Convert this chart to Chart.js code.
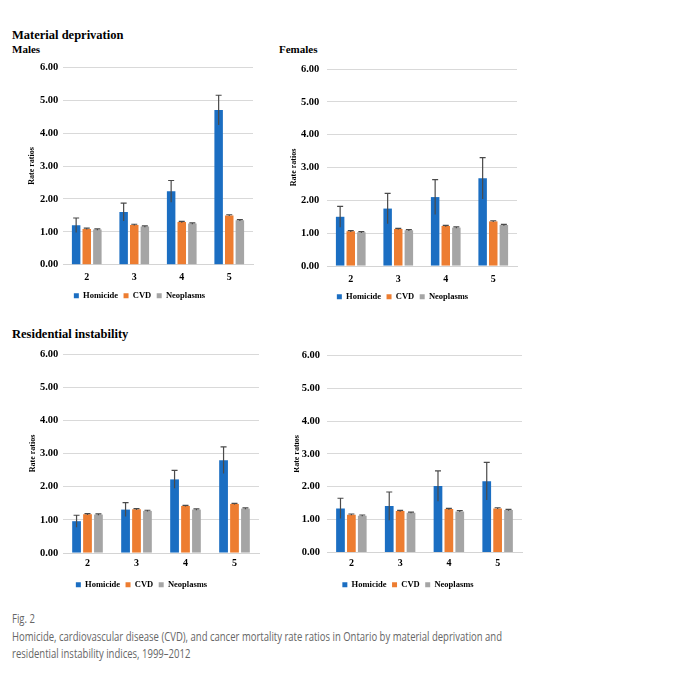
<!DOCTYPE html>
<html><head><meta charset="utf-8">
<script src="https://cdn.jsdelivr.net/npm/chart.js@4.4.0/dist/chart.umd.min.js"></script>
<style>
html,body{margin:0;padding:0;background:#fff;width:682px;height:679px;overflow:hidden;}
.t{position:absolute;font-family:"Liberation Serif","Times New Roman",serif;font-weight:bold;color:#000;white-space:nowrap;line-height:1;}
canvas{position:absolute;}
#cap{position:absolute;left:12px;top:610px;font-family:"Open Sans",sans-serif;font-size:12.5px;line-height:17.5px;color:#666;white-space:nowrap;transform-origin:0 0;}
</style></head><body>
<div class="t" style="left:12px;top:29px;font-size:12.5px">Material deprivation</div>
<div class="t" style="left:12px;top:44px;font-size:11px">Males</div>
<div class="t" style="left:279px;top:44px;font-size:11px">Females</div>
<div class="t" style="left:12px;top:328px;font-size:12.5px">Residential instability</div>
<canvas id="c1"></canvas>
<canvas id="c2"></canvas>
<canvas id="c3"></canvas>
<canvas id="c4"></canvas>
<div id="cap"><div>Fig. 2</div><div id="capl">Homicide, cardiovascular disease (CVD), and cancer mortality rate ratios in Ontario by material deprivation and</div><div>residential instability indices, 1999–2012</div></div>
<script>
// ---- data ----
const categories = ['2', '3', '4', '5'];
const seriesNames = ['Homicide', 'CVD', 'Neoplasms'];
const yTickValues = [0, 1, 2, 3, 4, 5, 6];
const yTickLabels = ['0.00', '1.00', '2.00', '3.00', '4.00', '5.00', '6.00'];

// Material deprivation, males
const mdMalesHomicide = [1.20, 1.60, 2.23, 4.70];
const mdMalesCVD = [1.09, 1.21, 1.30, 1.50];
const mdMalesNeoplasms = [1.07, 1.16, 1.25, 1.35];
const mdMalesHomicideErr = [0.22, 0.27, 0.33, 0.45];
const mdMalesCVDErr = [0.02, 0.02, 0.02, 0.02];
const mdMalesNeoplasmsErr = [0.02, 0.02, 0.02, 0.02];

// Material deprivation, females
const mdFemalesHomicide = [1.50, 1.75, 2.10, 2.67];
const mdFemalesCVD = [1.06, 1.13, 1.22, 1.36];
const mdFemalesNeoplasms = [1.03, 1.09, 1.17, 1.25];
const mdFemalesHomicideErr = [0.32, 0.46, 0.53, 0.63];
const mdFemalesCVDErr = [0.02, 0.02, 0.02, 0.02];
const mdFemalesNeoplasmsErr = [0.02, 0.02, 0.02, 0.02];

// Residential instability, males
const riMalesHomicide = [0.96, 1.31, 2.22, 2.80];
const riMalesCVD = [1.17, 1.32, 1.42, 1.48];
const riMalesNeoplasms = [1.16, 1.27, 1.31, 1.34];
const riMalesHomicideErr = [0.18, 0.21, 0.27, 0.40];
const riMalesCVDErr = [0.02, 0.02, 0.02, 0.02];
const riMalesNeoplasmsErr = [0.02, 0.02, 0.02, 0.02];

// Residential instability, females
const riFemalesHomicide = [1.34, 1.41, 2.02, 2.17];
const riFemalesCVD = [1.15, 1.26, 1.32, 1.34];
const riFemalesNeoplasms = [1.12, 1.21, 1.25, 1.29];
const riFemalesHomicideErr = [0.31, 0.43, 0.46, 0.57];
const riFemalesCVDErr = [0.02, 0.02, 0.02, 0.02];
const riFemalesNeoplasmsErr = [0.02, 0.02, 0.02, 0.02];

// ---- styles ----
const colors = ['#1b6ec2', '#ed7d31', '#a5a5a5'];
const serif = '"Liberation Serif","Times New Roman",serif';
const legFont = 8.5, legPad = 5.5;

const errorBarPlugin = {
  id: 'errbars',
  afterDatasetsDraw(chart) {
    const ctx = chart.ctx, y = chart.scales.y;
    chart.data.datasets.forEach((ds, di) => {
      const meta = chart.getDatasetMeta(di);
      meta.data.forEach((bar, i) => {
        const v = ds.data[i], e = ds.errors[i];
        const yt = y.getPixelForValue(v + e), yb = y.getPixelForValue(v - e);
        ctx.save();
        ctx.strokeStyle = '#4a4a4a';
        ctx.lineWidth = 1.2;
        ctx.beginPath();
        ctx.moveTo(bar.x, yb); ctx.lineTo(bar.x, yt);
        ctx.moveTo(bar.x - 3, yt); ctx.lineTo(bar.x + 3, yt);
        ctx.stroke();
        ctx.restore();
      });
    });
  }
};

function makeChart(id, vals, errs, L) {
  const cv = document.getElementById(id);
  const tickPad = L.catY - L.plotBottom - 5.3;
  const xH = L.legY - L.plotBottom - legPad - legFont / 2;
  const height = Math.round((L.plotBottom - L.top) + xH + legFont + legPad + 10);
  const width = L.plotRight + L.rightPad - L.left;
  cv.width = width; cv.height = height;
  cv.style.left = L.left + 'px'; cv.style.top = L.top + 'px';
  cv.style.width = width + 'px'; cv.style.height = height + 'px';
  new Chart(cv, {
    type: 'bar',
    data: {
      labels: categories,
      datasets: seriesNames.map((n, k) => ({
        label: n, data: vals[k], errors: errs[k], backgroundColor: colors[k], borderWidth: 0,
        categoryPercentage: 0.67, barPercentage: 0.8
      }))
    },
    options: {
      responsive: false, animation: false, devicePixelRatio: 1,
      layout: { padding: { top: L.plotTop - L.top, right: L.rightPad, left: 0, bottom: 0 } },
      plugins: {
        legend: {
          position: 'bottom',
          labels: { boxWidth: 5, boxHeight: 5, padding: legPad, color: '#000',
                    font: { family: serif, size: legFont, weight: 'bold' } }
        },
        tooltip: { enabled: false }
      },
      scales: {
        x: {
          grid: { display: false, drawTicks: false },
          border: { color: '#d4d4d4', width: 1 },
          ticks: { padding: tickPad, color: '#000', font: { family: serif, size: 10, weight: 'bold' } },
          afterFit: s => { s.height = xH; }
        },
        y: {
          min: 0, max: 6,
          afterBuildTicks: s => { s.ticks = yTickValues.map(v => ({ value: v })); },
          ticks: { padding: L.yTickPad, color: '#000',
                   callback: v => yTickLabels[yTickValues.indexOf(v)],
                   font: { family: serif, size: 10.5, weight: 'bold' } },
          grid: { color: '#d9d9d9', drawTicks: false },
          border: { display: false },
          title: { display: true, text: 'Rate ratios', color: '#000',
                   padding: { top: L.titlePad, bottom: 0 },
                   font: { family: serif, size: 8, weight: 'bold', lineHeight: 1 } },
          afterFit: s => { s.width = L.plotLeft - L.left; }
        }
      }
    },
    plugins: [errorBarPlugin]
  });
}

makeChart('c1', [mdMalesHomicide, mdMalesCVD, mdMalesNeoplasms],
  [mdMalesHomicideErr, mdMalesCVDErr, mdMalesNeoplasmsErr],
  { left: 26, top: 55, plotLeft: 63, plotRight: 253, rightPad: 5, plotTop: 67.3, plotBottom: 265,
    catY: 276.7, legY: 296, yTickPad: 4.7, titlePad: 2.3 });
makeChart('c2', [mdFemalesHomicide, mdFemalesCVD, mdFemalesNeoplasms],
  [mdFemalesHomicideErr, mdFemalesCVDErr, mdFemalesNeoplasmsErr],
  { left: 288, top: 55, plotLeft: 327, plotRight: 517, rightPad: 5, plotTop: 67.3, plotBottom: 266,
    catY: 278.3, legY: 296.7, yTickPad: 7.7, titlePad: 2.3 });
makeChart('c3', [riMalesHomicide, riMalesCVD, riMalesNeoplasms],
  [riMalesHomicideErr, riMalesCVDErr, riMalesNeoplasmsErr],
  { left: 24, top: 342, plotLeft: 63, plotRight: 259, rightPad: 3, plotTop: 354, plotBottom: 553.3,
    catY: 563.3, legY: 585, yTickPad: 4.7, titlePad: 5.3 });
makeChart('c4', [riFemalesHomicide, riFemalesCVD, riFemalesNeoplasms],
  [riFemalesHomicideErr, riFemalesCVDErr, riFemalesNeoplasmsErr],
  { left: 294, top: 342, plotLeft: 327, plotRight: 522, rightPad: 3, plotTop: 353.3, plotBottom: 552.7,
    catY: 563.3, legY: 585, yTickPad: 7, titlePad: -1.3 });

// fit caption width to reference line length
const capl = document.getElementById('capl');
const r = document.createRange(); r.selectNodeContents(capl);
const w = r.getBoundingClientRect().width;
document.getElementById('cap').style.transform = 'scaleX(' + (490 / w) + ')';
</script>
</body></html>
